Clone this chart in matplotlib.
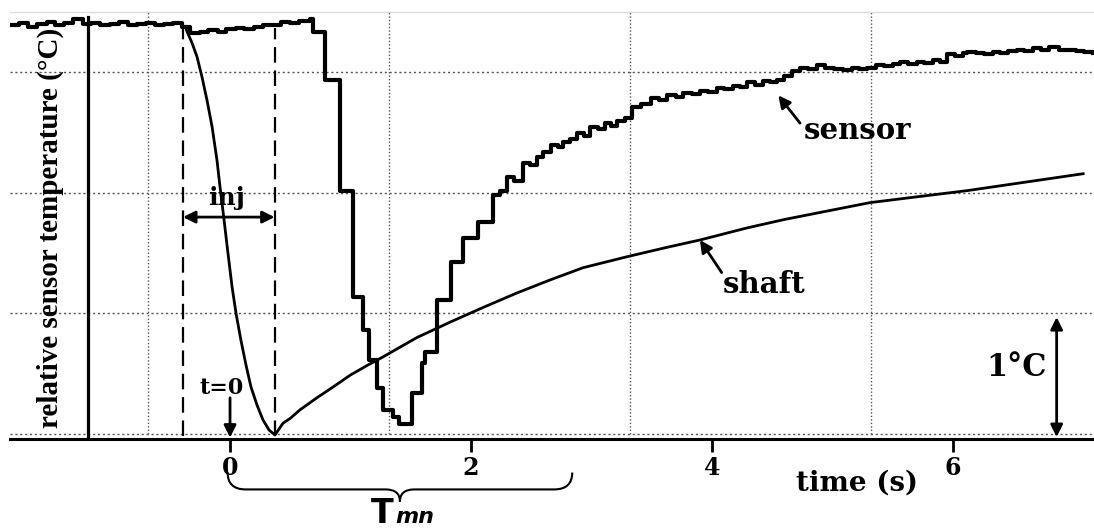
import numpy as np
import matplotlib
matplotlib.use("Agg")
import matplotlib.pyplot as plt
from matplotlib.path import Path
from matplotlib.patches import PathPatch

# sensor trace (time s, relative temp degC)
sensor_t = [-1.83, -1.75, -1.68, -1.60, -1.52, -1.45, -1.38, -1.30, -1.22, -1.15,
            -1.08, -1.00, -0.92, -0.85, -0.77, -0.70, -0.62, -0.55, -0.47, -0.40,
            -0.33, -0.25, -0.18, -0.10, -0.03, 0.05, 0.12, 0.20, 0.27, 0.35,
            0.42, 0.50, 0.57, 0.66, 0.69, 0.79, 0.91, 1.02, 1.10, 1.15,
            1.22, 1.27, 1.35, 1.40, 1.51, 1.59, 1.62, 1.72, 1.83, 1.93,
            2.06, 2.18, 2.24, 2.30, 2.36, 2.43, 2.49, 2.55, 2.60, 2.66,
            2.72, 2.76, 2.82, 2.88, 2.94, 2.99, 3.05, 3.11, 3.16, 3.21,
            3.28, 3.34, 3.41, 3.49, 3.56, 3.63, 3.70, 3.76, 3.83, 3.90,
            3.97, 4.04, 4.10, 4.17, 4.23, 4.29, 4.36, 4.42, 4.48, 4.54,
            4.60, 4.66, 4.73, 4.80, 4.87, 4.94, 5.01, 5.09, 5.16, 5.22,
            5.29, 5.36, 5.43, 5.50, 5.56, 5.63, 5.70, 5.76, 5.83, 5.89,
            5.95, 6.02, 6.08, 6.12, 6.19, 6.26, 6.33, 6.39, 6.46, 6.53,
            6.59, 6.66, 6.73, 6.80, 6.88, 6.95, 7.02, 7.09, 7.16]
sensor_T = [3.39, 3.41, 3.38, 3.40, 3.42, 3.39, 3.41, 3.44, 3.40, 3.41,
            3.39, 3.40, 3.42, 3.39, 3.40, 3.41, 3.39, 3.40, 3.41, 3.38,
            3.33, 3.34, 3.35, 3.34, 3.36, 3.37, 3.36, 3.38, 3.39, 3.39,
            3.42, 3.41, 3.43, 3.44, 3.34, 2.94, 2.02, 1.14, 0.86, 0.61,
            0.38, 0.20, 0.14, 0.08, 0.34, 0.59, 0.68, 1.11, 1.43, 1.63,
            1.76, 1.98, 2.02, 2.13, 2.10, 2.25, 2.23, 2.30, 2.34, 2.40,
            2.38, 2.42, 2.45, 2.50, 2.47, 2.55, 2.53, 2.58, 2.56, 2.60,
            2.62, 2.71, 2.74, 2.79, 2.77, 2.81, 2.80, 2.83, 2.82, 2.85,
            2.84, 2.87, 2.86, 2.89, 2.88, 2.92, 2.90, 2.93, 2.92, 2.94,
            2.97, 3.01, 3.04, 3.03, 3.06, 3.04, 3.03, 3.02, 3.04, 3.03,
            3.04, 3.06, 3.05, 3.07, 3.09, 3.07, 3.09, 3.08, 3.10, 3.09,
            3.15, 3.14, 3.16, 3.17, 3.16, 3.15, 3.17, 3.16, 3.18, 3.19,
            3.18, 3.20, 3.19, 3.21, 3.19, 3.19, 3.18, 3.17, 3.16]

# shaft (model) curve
shaft_t = [-0.37, -0.357, -0.315, -0.274, -0.232, -0.191, -0.149, -0.108, -0.083, -0.05,
           -0.017, 0.017, 0.05, 0.09, 0.133, 0.174, 0.224, 0.274, 0.324, 0.373,
           0.44, 0.50, 0.58, 0.72, 0.855, 1.00, 1.14, 1.27, 1.41, 1.55,
           1.83, 2.10, 2.38, 2.66, 2.93, 3.29, 3.63, 3.90, 4.29, 4.60,
           5.31, 6.12, 7.08]
shaft_T = [3.38, 3.34, 3.245, 3.13, 2.96, 2.77, 2.55, 2.27, 2.05, 1.78,
           1.50, 1.22, 1.00, 0.78, 0.57, 0.39, 0.24, 0.116, 0.033, -0.008,
           0.09, 0.13, 0.20, 0.30, 0.39, 0.49, 0.57, 0.64, 0.72, 0.80,
           0.93, 1.05, 1.17, 1.28, 1.38, 1.47, 1.55, 1.61, 1.71, 1.78,
           1.92, 2.02, 2.16]

x_ticks = [0, 2, 4, 6]
grid_x = [-0.68, 1.32, 3.32, 5.32]
grid_y = [0, 1, 2, 3]
marker_x = -1.18            # solid vertical line
inj_start, inj_end = -0.39, 0.37
tmn_start, tmn_end = -0.02, 2.84

SERIF = "DejaVu Serif"

fig = plt.figure(figsize=(10.94, 5.32), dpi=100)
ax = fig.add_axes([10/1094, 1-439/532, 1-10/1094, 427/532])
ax.set_xlim(-1.826, 7.17)
ax.set_ylim(-0.0415, 3.502)

for gx in grid_x:
	ax.plot([gx, gx], [0, 3.50], color="#555555", lw=1, ls=(0, (1, 1.5)), zorder=1)
for gy in grid_y:
	ax.axhline(gy, color="#555555", lw=1, ls=(0, (1.5, 2)), zorder=1)

ax.plot([marker_x, marker_x], [-0.04, 3.46], color="k", lw=2.3, zorder=2)
for dx in (inj_start, inj_end):
	ax.plot([dx, dx], [-0.02, 3.37], color="k", lw=1.6, ls=(0, (7, 3.5)), zorder=2)

ax.plot(shaft_t, shaft_T, color="k", lw=2.0, zorder=3)
ax.plot(sensor_t, sensor_T, color="k", lw=3.0, drawstyle="steps-post", zorder=4)

# axes styling
for s in ("left", "right"):
	ax.spines[s].set_visible(False)
ax.spines["top"].set_color("#dddddd")
ax.spines["top"].set_linewidth(1)
ax.spines["bottom"].set_linewidth(2.2)
ax.set_yticks([])
ax.set_xticks(x_ticks)
ax.set_xticklabels([str(t) for t in x_ticks], fontfamily=SERIF, fontweight="bold", fontsize=17)
ax.tick_params(axis="x", direction="out", length=9, width=2, pad=3)

fig.text(50/1094, 1-228/532, "relative sensor temperature (°C)", rotation=90,
	ha="center", va="center", fontfamily="Liberation Serif", fontweight="bold", fontsize=21)

ax.text(5.2, -0.41, "time (s)", ha="center", va="center", fontfamily=SERIF,
	fontweight="bold", fontsize=20, clip_on=False)

arrow = dict(arrowstyle="-|>", color="k", lw=2, mutation_scale=18, shrinkA=0, shrinkB=0)
darrow = dict(arrowstyle="<|-|>", color="k", lw=2, mutation_scale=18, shrinkA=0, shrinkB=0)

ax.annotate("", xy=(inj_start, 1.80), xytext=(inj_end, 1.80), arrowprops=darrow)
ax.text(-0.03, 1.96, "inj", ha="center", va="center", fontfamily=SERIF,
	fontweight="bold", fontsize=18)

ax.annotate("", xy=(0, -0.03), xytext=(0, 0.30), arrowprops=arrow)
ax.text(-0.07, 0.38, "t=0", ha="center", va="center", fontfamily=SERIF,
	fontweight="bold", fontsize=16)

ax.annotate("", xy=(4.55, 2.81), xytext=(4.73, 2.58), arrowprops=arrow)
ax.text(4.76, 2.52, "sensor", ha="left", va="center", fontfamily=SERIF,
	fontweight="bold", fontsize=21)

ax.annotate("", xy=(3.90, 1.61), xytext=(4.08, 1.34), arrowprops=arrow)
ax.text(4.09, 1.24, "shaft", ha="left", va="center", fontfamily=SERIF,
	fontweight="bold", fontsize=21)

ax.annotate("", xy=(6.86, -0.025), xytext=(6.86, 0.97), arrowprops=darrow)
ax.text(6.78, 0.55, "1°C", ha="right", va="center", fontfamily=SERIF,
	fontweight="bold", fontsize=22)

# curly brace for T_mn
tip = (tmn_start + tmn_end) / 2
y0, y1, y2 = -0.32, -0.46, -0.56
verts = [(tmn_start, y0), (tmn_start, y1), (tmn_start + 0.15, y1),
	(tip - 0.12, y1), (tip, y1), (tip, y2),
	(tip, y1), (tip + 0.12, y1),
	(tmn_end - 0.15, y1), (tmn_end, y1), (tmn_end, y0)]
codes = [Path.MOVETO, Path.CURVE3, Path.CURVE3,
	Path.LINETO, Path.CURVE3, Path.CURVE3,
	Path.CURVE3, Path.CURVE3,
	Path.LINETO, Path.CURVE3, Path.CURVE3]
ax.add_patch(PathPatch(Path(verts, codes), fill=False, lw=1.5, color="k", clip_on=False))

ax.text(tip - 0.05, -0.74, "T", ha="right", va="baseline", fontfamily="DejaVu Sans",
	fontweight="bold", fontsize=24, clip_on=False)
ax.text(tip - 0.04, -0.74, "mn", ha="left", va="baseline", fontfamily="DejaVu Sans",
	fontweight="bold", fontstyle="italic", fontsize=16, clip_on=False)

fig.savefig("out.png", dpi=100)
